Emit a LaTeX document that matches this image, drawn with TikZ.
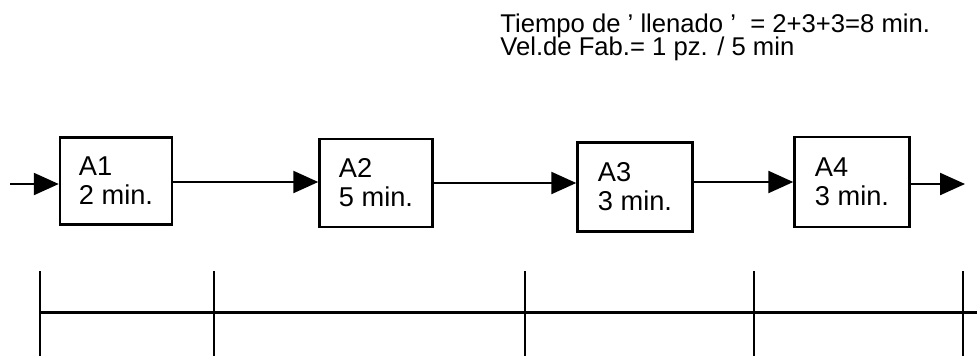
\documentclass[tikz,border=0pt]{standalone}
\usepackage{fontspec}
\setmainfont{Liberation Sans}
\usepackage{tikz}
\usetikzlibrary{arrows.meta,calc}
\tikzset{
  opbox/.style={draw,line width=1.4pt,align=left,inner sep=0pt,
    font=\fontsize{15.5}{16.5}\selectfont},
  flow/.style={line width=1.3pt,-{Triangle[length=0.5cm,width=0.44cm]}},
  axis/.style={line width=1.7pt},
  note/.style={anchor=base west,inner sep=0pt,font=\fontsize{14.6}{16}\selectfont}
}

\begin{document}
\begin{tikzpicture}[x=0.02cm,y=-0.02cm]
    \useasboundingbox (0,0) rectangle (977,356);
    \node[note] (t1) at (500,32) {Tiempo de ' llenado '~ = 2+3+3=8 min.};
    \node[note] (t2) at (500,55) {Vel.de Fab.= 1 pz. / 5 min};
    \node[opbox,minimum width=2.24cm,minimum height=1.74cm] (a1) at (116,181) {A1\\2 min.};
    \node[opbox,minimum width=2.26cm,minimum height=1.76cm] (a2) at (376,183) {A2\\5 min.};
    \node[opbox,minimum width=2.30cm,minimum height=1.78cm] (a3) at (635,187) {A3\\3 min.};
    \node[opbox,minimum width=2.30cm,minimum height=1.80cm] (a4) at (852,182) {A4\\3 min.};
    \coordinate (in) at (10,184);
    \coordinate (out) at (965,184);
    \draw[flow] (in) -- (in -| a1.west);
    \draw[flow] (a1.east |- 0,182) -- (a2.west |- 0,182);
    \draw[flow] (a2.east |- 0,183) -- (a3.west |- 0,183);
    \draw[flow] (a3.east |- 0,182) -- (a4.west |- 0,182);
    \draw[flow] (a4.east |- out) -- (out);
    \coordinate (l0) at (40,312);
    \coordinate (l1) at (977,312);
    \draw[axis] (l0) -- (l1);
    \foreach \x in {40,214,525,754,963} \draw[line width=1.4pt] (\x,271)--(\x,356);
\end{tikzpicture}
\end{document}
